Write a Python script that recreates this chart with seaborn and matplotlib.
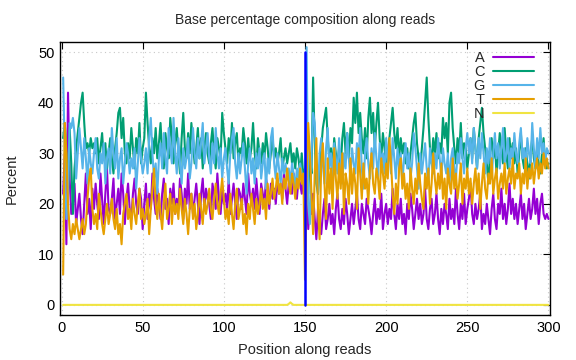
import matplotlib
matplotlib.use("Agg")
import matplotlib.pyplot as plt
import seaborn as sns
import numpy as np
import pandas as pd

# positions 1..300
positions = list(range(1, 301))

a_pct = [
    22, 30, 12, 42, 25, 18, 20, 24, 16, 19,
    22, 17, 14, 20, 26, 18, 21, 15, 23, 19,
    24, 20, 17, 26, 21, 16, 22, 27, 19, 18,
    21, 25, 17, 20, 23, 18, 26, 22, 16, 21,
    24, 19, 17, 22, 25, 20, 18, 23, 21, 15,
    20, 24, 17, 22, 19, 26, 21, 18, 23, 20,
    17, 22, 25, 19, 21, 16, 23, 20, 24, 18,
    21, 19, 25, 22, 17, 23, 20, 26, 19, 22,
    18, 21, 24, 20, 16, 22, 25, 19, 23, 21,
    20, 17, 24, 22, 19, 26, 21, 18, 23, 20,
    22, 19, 25, 18, 21, 24, 20, 17, 23, 22,
    19, 24, 21, 18, 26, 22, 20, 23, 19, 25,
    21, 18, 24, 22, 20, 25, 23, 19, 24, 21,
    23, 20, 25, 22, 24, 21, 26, 23, 20, 24,
    25, 22, 26, 23, 21, 25, 24, 22, 26, 24,
    23, 15, 20, 18, 22, 17, 13, 19, 16, 14,
    18, 21, 15, 17, 20, 16, 18, 14, 19, 22,
    17, 15, 19, 16, 21, 18, 14, 17, 20, 16,
    19, 22, 17, 15, 20, 18, 16, 21, 19, 17,
    14, 18, 21, 16, 19, 17, 22, 15, 18, 20,
    16, 19, 17, 23, 18, 15, 20, 17, 21, 16,
    18, 14, 20, 17, 22, 19, 15, 18, 21, 17,
    20, 16, 18, 23, 17, 15, 19, 21, 16, 18,
    22, 17, 14, 19, 16, 20, 18, 15, 21, 17,
    19, 16, 23, 18, 15, 20, 17, 22, 16, 19,
    21, 24, 18, 16, 20, 17, 19, 22, 15, 18,
    16, 20, 17, 14, 19, 22, 17, 15, 20, 18,
    23, 17, 20, 16, 19, 24, 18, 21, 17, 20,
    16, 19, 22, 17, 20, 15, 18, 21, 17, 19,
    23, 18, 21, 16, 20, 22, 18, 17, 18, 17,
]

c_pct = [
    33, 36, 30, 22, 35, 28, 18, 27, 31, 34,
    37, 40, 42, 36, 31, 32, 30, 33, 31, 32,
    30, 33, 28, 31, 34, 29, 32, 27, 30, 33,
    29, 26, 31, 34, 38, 39, 33, 37, 30, 28,
    32, 29, 35, 31, 27, 33, 30, 36, 28, 31,
    33, 42, 36, 31, 28, 33, 30, 35, 29, 32,
    36, 30, 27, 34, 31, 29, 37, 33, 28, 32,
    35, 30, 26, 33, 38, 31, 29, 34, 30, 36,
    32, 28, 31, 35, 29, 33, 27, 31, 34, 30,
    28, 32, 35, 30, 27, 33, 31, 29, 38, 34,
    31, 28, 33, 30, 36, 29, 32, 34, 28, 31,
    30, 35, 32, 28, 33, 29, 31, 36, 30, 27,
    33, 30, 28, 32, 29, 34, 31, 27, 30, 33,
    29, 31, 28, 30, 33, 27, 29, 31, 28, 30,
    32, 28, 30, 27, 31, 29, 26, 30, 25, 27,
    28, 22, 30, 26, 45, 32, 24, 22, 27, 31,
    35, 37, 39, 33, 29, 31, 27, 33, 30, 28,
    31, 27, 33, 36, 30, 34, 29, 35, 32, 41,
    36, 42, 34, 38, 33, 30, 35, 29, 37, 41,
    34, 38, 31, 36, 40, 33, 29, 34, 31, 28,
    30, 33, 36, 39, 34, 31, 35, 29, 33, 30,
    32, 28, 31, 27, 30, 33, 36, 38, 32, 29,
    27, 31, 35, 40, 45, 37, 31, 28, 33, 30,
    34, 29, 32, 30, 37, 33, 36, 30, 40, 42,
    35, 31, 28, 33, 30, 36, 29, 32, 31, 27,
    30, 33, 29, 35, 31, 27, 33, 36, 39, 34,
    31, 28, 24, 30, 33, 29, 32, 26, 30, 34,
    31, 28, 35, 30, 27, 33, 29, 32, 28, 31,
    26, 30, 34, 29, 27, 31, 28, 25, 30, 33,
    29, 27, 31, 28, 26, 30, 33, 28, 27, 28,
]

g_pct = [
    45, 30, 17, 22, 36, 35, 37, 34, 25, 30,
    35, 31, 27, 33, 29, 24, 31, 28, 26, 30,
    33, 27, 25, 30, 28, 32, 24, 29, 31, 26,
    35, 30, 27, 33, 25, 29, 31, 24, 28, 32,
    30, 26, 29, 27, 31, 23, 28, 33, 29, 26,
    28, 31, 26, 33, 37, 30, 25, 28, 22, 29,
    32, 27, 34, 29, 26, 35, 31, 28, 37, 30,
    26, 33, 28, 24, 31, 27, 29, 33, 25, 28,
    35, 30, 27, 33, 29, 32, 36, 28, 31, 34,
    29, 26, 32, 28, 35, 30, 27, 31, 25, 29,
    31, 27, 24, 30, 33, 35, 28, 25, 30, 26,
    29, 32, 27, 22, 28, 31, 26, 29, 24, 30,
    27, 31, 25, 28, 30, 23, 29, 26, 33, 35,
    28, 25, 30, 27, 24, 29, 26, 28, 25, 27,
    24, 28, 26, 23, 27, 25, 28, 26, 24, 22,
    51, 20, 16, 30, 38, 36, 27, 22, 30, 33,
    28, 24, 31, 35, 27, 30, 25, 32, 29, 26,
    33, 28, 24, 30, 27, 34, 29, 25, 31, 28,
    26, 32, 29, 35, 27, 23, 30, 33, 28, 25,
    31, 27, 34, 29, 25, 32, 28, 30, 26, 33,
    28, 31, 26, 33, 29, 25, 31, 27, 30, 24,
    29, 32, 27, 30, 25, 28, 34, 31, 27, 23,
    30, 26, 29, 32, 27, 24, 31, 28, 26, 30,
    27, 33, 29, 25, 31, 28, 26, 30, 24, 29,
    31, 27, 25, 30, 28, 33, 29, 26, 31, 34,
    30, 33, 28, 35, 31, 27, 33, 29, 34, 30,
    26, 31, 28, 33, 25, 30, 34, 29, 32, 27,
    31, 35, 28, 30, 33, 27, 31, 29, 34, 30,
    28, 32, 35, 29, 31, 27, 33, 30, 28, 36,
    31, 27, 33, 29, 35, 30, 32, 28, 31, 30,
]

t_pct = [
    6, 36, 30, 20, 15, 13, 16, 14, 17, 15,
    13, 15, 17, 14, 16, 21, 25, 27, 19, 16,
    18, 15, 22, 19, 16, 14, 17, 20, 16, 18,
    21, 17, 15, 19, 14, 16, 12, 18, 20, 22,
    17, 19, 15, 21, 18, 16, 20, 23, 17, 19,
    16, 18, 21, 14, 19, 23, 27, 20, 17, 22,
    18, 15, 20, 24, 17, 19, 22, 16, 21, 18,
    20, 17, 23, 19, 16, 21, 18, 14, 19, 22,
    17, 20, 15, 18, 22, 19, 16, 21, 18, 20,
    23, 19, 17, 21, 24, 20, 18, 22, 25, 21,
    17, 19, 16, 22, 18, 15, 20, 23, 17, 19,
    21, 16, 18, 14, 20, 17, 22, 19, 16, 21,
    18, 20, 23, 19, 21, 17, 24, 20, 22, 25,
    21, 23, 26, 22, 24, 20, 25, 23, 27, 24,
    22, 26, 24, 21, 25, 23, 27, 24, 26, 5,
    25, 36, 30, 22, 14, 26, 33, 19, 13, 28,
    32, 24, 17, 29, 22, 27, 19, 31, 25, 21,
    28, 23, 30, 18, 26, 24, 20, 29, 22, 27,
    24, 19, 31, 26, 21, 28, 23, 25, 20, 27,
    30, 24, 22, 27, 25, 21, 29, 26, 23, 28,
    25, 33, 28, 22, 18, 24, 20, 27, 29, 23,
    26, 21, 24, 19, 27, 23, 20, 25, 22, 28,
    24, 21, 19, 26, 23, 27, 20, 24, 30, 25,
    22, 26, 23, 28, 21, 25, 19, 27, 24, 22,
    29, 23, 26, 21, 24, 28, 20, 25, 23, 27,
    22, 25, 20, 24, 27, 22, 26, 19, 24, 28,
    23, 21, 26, 24, 29, 22, 25, 27, 21, 24,
    26, 23, 28, 22, 25, 27, 24, 29, 23, 26,
    25, 28, 22, 26, 24, 29, 23, 27, 25, 28,
    24, 27, 29, 25, 28, 26, 30, 27, 29, 27,
]

# N is flat at zero except a tiny bump just before 150
n_pct = np.zeros(300)
n_bump_pos = [140, 141, 142]
n_bump_val = [0.2, 0.5, 0.2]
n_pct[np.array(n_bump_pos) - 1] = n_bump_val

# the dark blue vertical spike at the read junction
spike_pos = [150, 150]
spike_val = [0, 50]

bases = ["A", "C", "G", "T", "N"]
colors = ["#9400d3", "#009e73", "#56b4e9", "#e69f00", "#f0e442"]

sns.set_style("white")
plt.rcParams["font.family"] = ["Liberation Sans", "DejaVu Sans"]

fig = plt.figure(figsize=(5.76, 3.6), dpi=100)
ax = fig.add_axes([0.104, 0.125, 0.851, 0.758])

for base, vals, col in zip(bases, [a_pct, c_pct, g_pct, t_pct, n_pct], colors):
    df = pd.DataFrame({"pos": positions, "pct": vals})
    sns.lineplot(data=df, x="pos", y="pct", color=col, lw=1.5, label=base, ax=ax)

# estimator=None so the two points at x=150 are not averaged together
sns.lineplot(x=spike_pos, y=spike_val, color="#0000ff", lw=1.8,
             estimator=None, sort=False, ax=ax)

ax.set_xlim(-1, 301)
ax.set_ylim(-2, 52)
ax.set_xticks(range(0, 301, 50))
ax.set_yticks(range(0, 51, 10))
ax.grid(True, color="#c8c8c8", linestyle=(0, (1, 3)), lw=0.8)
ax.tick_params(direction="in", length=5, top=True, right=True,
               labelsize=10.5, colors="black", pad=4)
for s in ax.spines.values():
    s.set_color("black")
    s.set_linewidth(1.0)

ax.set_xlabel("Position along reads", fontsize=10.5, labelpad=6)
ax.set_ylabel("Percent", fontsize=10.5, labelpad=14)
ax.set_title("Base percentage composition along reads", fontsize=10, pad=13)

leg = ax.legend(loc="upper right", bbox_to_anchor=(0.985, 1.0), frameon=False,
                markerfirst=False, handlelength=2.8, handletextpad=0.6,
                labelspacing=0.0, fontsize=10.5, borderaxespad=0.2)
for t in leg.get_texts():
    t.set_ha("right")

fig.savefig("out.png", dpi=100)
